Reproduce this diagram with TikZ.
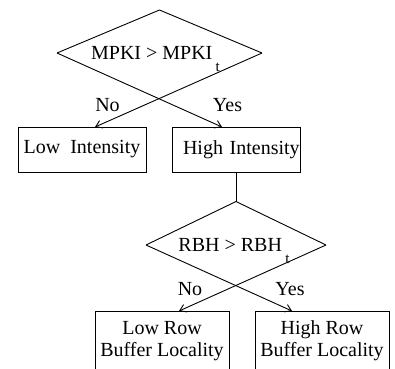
\documentclass[tikz,border=0pt]{standalone}
\usepackage{fontspec}
\setmainfont{Liberation Serif}
\usetikzlibrary{arrows.meta,shapes.geometric}

\begin{document}
\begin{tikzpicture}[x=1pt,y=1pt,>={Straight Barb[length=6pt,width=8pt]},line width=0.9pt,font=\fontsize{20}{22}\selectfont]
  \tikzstyle{test}=[diamond,aspect=2.3,inner sep=0pt,outer sep=0pt]
  \tikzstyle{box}=[draw,rectangle,inner sep=0pt,outer sep=0pt,align=center]
  \useasboundingbox (0,0) rectangle (395,368);
  \clip (0,0) rectangle (395,368);
  % first test: the lower edges are the two arrows
  \node[test,minimum width=205,minimum height=86] (mpki) at (159.5,315) {MPKI > MPKI\,\raisebox{-12pt}[0pt][0pt]{\fontsize{15}{15}\selectfont t}\hspace*{8pt}};
  \draw (mpki.west) -- (mpki.north) -- (mpki.east);
  \node[box,minimum width=128,minimum height=45] (low) at (82,218.5) {Low\ \ Intensity};
  \node[box,text width=128pt,align=left,minimum height=45] (high) at (236,218.5) {\hspace*{11pt}High Intensity};
  \draw[->] (mpki.west) -- ([xshift=50pt]high.north west);
  \draw[->] (mpki.east) -- ([xshift=77pt]low.north west);
  \node (no1) at (107.5,263) {No};
  \node (yes1) at (227.5,263) {Yes};
  % second test
  \node[test,minimum width=180,minimum height=87] (rbh) at (236,123) {RBH > RBH\,\raisebox{-12pt}[0pt][0pt]{\fontsize{15}{15}\selectfont t}\hspace*{4pt}};
  \draw (rbh.west) -- (rbh.north) -- (rbh.east);
  \draw (high.south) -- (rbh.north);
  \node[box,minimum width=134,minimum height=60] (lowrb) at (162,27) {Low Row\\Buffer Locality};
  \node[box,minimum width=134,minimum height=60] (highrb) at (322,27) {High Row\\Buffer Locality};
  \draw[->] (rbh.west) -- ([xshift=37pt]highrb.north west);
  \draw[->] (rbh.east) -- ([xshift=-50pt]lowrb.north east);
  \node (no2) at (190,78.5) {No};
  \node (yes2) at (290,78.5) {Yes};
\end{tikzpicture}
\end{document}
